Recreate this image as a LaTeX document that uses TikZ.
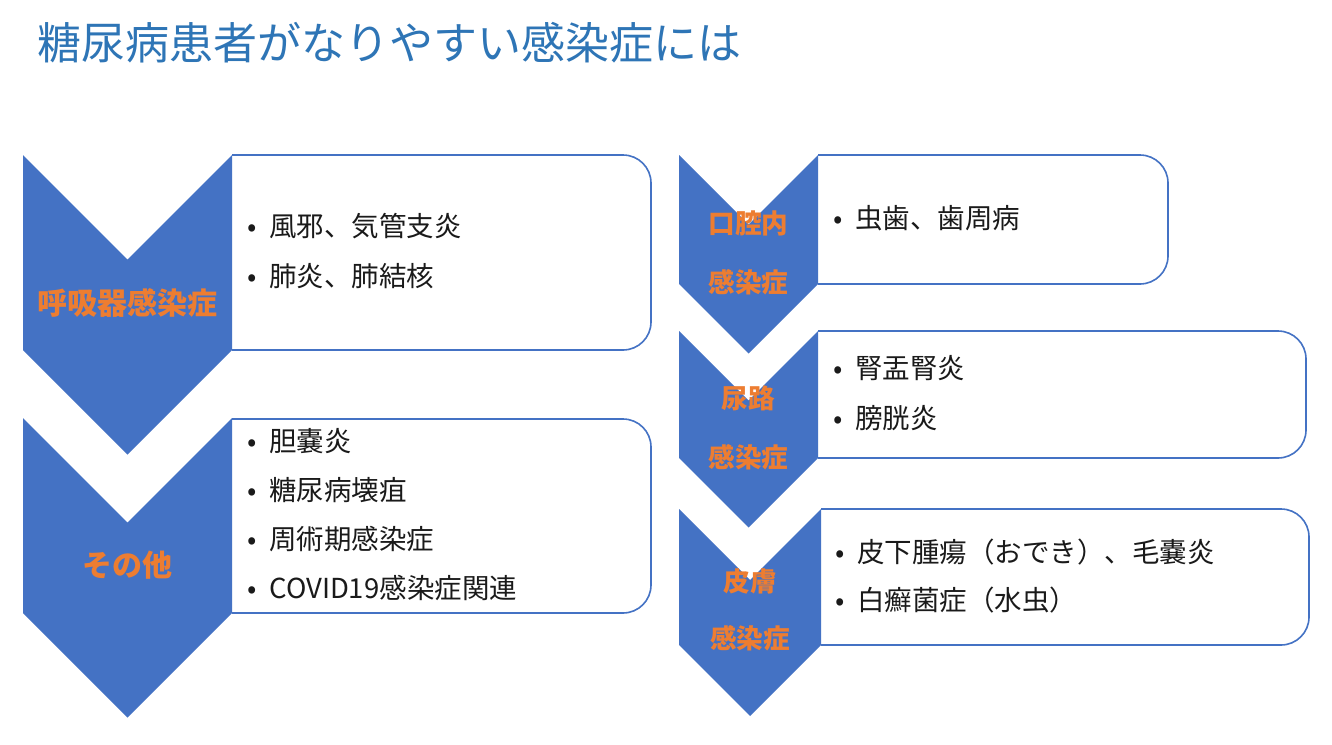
\documentclass[tikz,border=0pt]{standalone}
\usepackage{fontspec}
\setmainfont{Noto Sans CJK JP}
\definecolor{chevblue}{HTML}{4472C4}
\definecolor{laborange}{HTML}{ED7D31}
\definecolor{titleblue}{HTML}{2E75B6}
\definecolor{itemtext}{HTML}{1A1A1A}
\tikzset{
  chev/.style={fill=chevblue, draw=none},
  itembox/.style={draw=chevblue, line width=0.8pt, rounded corners=14pt, fill=white},
  item/.style={anchor=west, inner sep=0pt, font=\fontsize{13.75}{16}\selectfont, text=itemtext},
  labl/.style={inner sep=0pt, font=\fontsize{15}{18}\selectfont\bfseries, text=laborange},
  labs/.style={inner sep=0pt, font=\fontsize{13.3}{16}\selectfont\bfseries, text=laborange},
  ttl/.style={anchor=west, inner sep=0pt, font=\fontsize{22}{26}\selectfont, text=titleblue}
}
\newcommand{\bul}{\llap{\makebox[17pt][c]{•}}}
\begin{document}
\begin{tikzpicture}[x=0.5pt,y=-0.5pt]
\useasboundingbox (0,0) rectangle (1332,744);
\fill[white] (0,0) rectangle (1332,744);
% title
\node[ttl] (title) at (37,43) {糖尿病患者がなりやすい感染症には};
% boxes
\draw[itembox] (232,155) -- (651,155) -- (651,350) -- (232,350);
\draw[itembox] (232,419) -- (651,419) -- (651,613) -- (232,613);
\draw[itembox] (818,155) -- (1168,155) -- (1168,284) -- (818,284);
\draw[itembox] (818,331) -- (1306,331) -- (1306,458) -- (818,458);
\draw[itembox] (821,509) -- (1309,509) -- (1309,645) -- (821,645);
% chevrons
\fill[chev] (23,155) -- (127.5,259.5) -- (232,155) -- (232,350) -- (127.5,454.5) -- (23,350) -- cycle;
\fill[chev] (23,418) -- (127.5,522.5) -- (232,418) -- (232,613) -- (127.5,717.5) -- (23,613) -- cycle;
\fill[chev] (679,155) -- (748.5,224.5) -- (818,155) -- (818,284) -- (748.5,353.5) -- (679,284) -- cycle;
\fill[chev] (679,331) -- (748.5,400.5) -- (818,331) -- (818,458) -- (748.5,527.5) -- (679,458) -- cycle;
\fill[chev] (679,509) -- (750,580) -- (821,509) -- (821,645) -- (750,716) -- (679,645) -- cycle;
% labels
\node[labl] (l1) at (127.5,303) {呼吸器感染症};
\node[labl] (l2) at (127.5,565) {その他};
\node[labs] (l3a) at (748.5,223) {口腔内};
\node[labs] (l3b) at (748.5,282) {感染症};
\node[labs] (l4a) at (748.5,398) {尿路};
\node[labs] (l4b) at (748.5,457) {感染症};
\node[labs] (l5a) at (750,581) {皮膚};
\node[labs] (l5b) at (750,638) {感染症};
% items
\node[item] (i11) at (269,226) {\bul 風邪、気管支炎};
\node[item] (i12) at (269,276) {\bul 肺炎、肺結核};
\node[item] (i21) at (269,441) {\bul 胆嚢炎};
\node[item] (i22) at (269,490) {\bul 糖尿病壊疽};
\node[item] (i23) at (269,539) {\bul 周術期感染症};
\node[item] (i24) at (269,588) {\bul COVID19感染症関連};
\node[item] (i31) at (855,218) {\bul 虫歯、歯周病};
\node[item] (i41) at (855,368) {\bul 腎盂腎炎};
\node[item] (i42) at (855,418) {\bul 膀胱炎};
\node[item] (i51) at (857,552) {\bul 皮下腫瘍（おでき）、毛嚢炎};
\node[item] (i52) at (857,600) {\bul 白癬菌症（水虫）};
\end{tikzpicture}
\end{document}
